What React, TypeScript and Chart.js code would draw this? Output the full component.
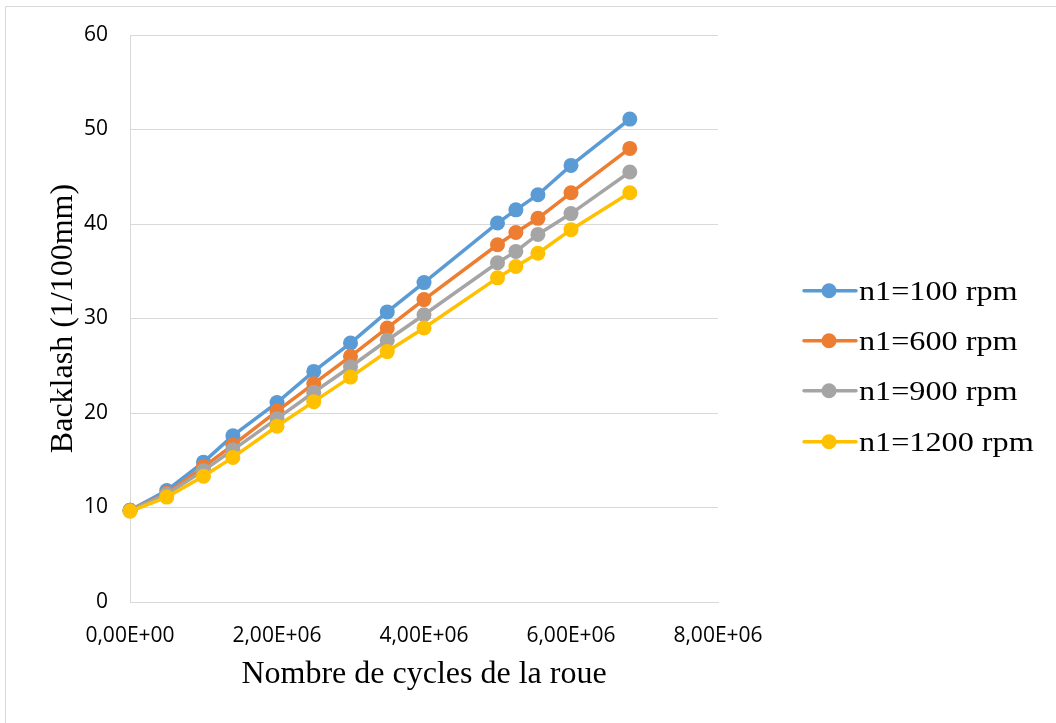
import React, { useEffect, useRef } from "react";
import { Chart, registerables } from "chart.js";

Chart.register(...registerables);

const cycles = [0, 0.5e6, 1e6, 1.4e6, 2e6, 2.5e6, 3e6, 3.5e6, 4e6, 5e6, 5.25e6, 5.55e6, 6e6, 6.8e6];
const rpm100 = [9.7, 11.8, 14.8, 17.6, 21.1, 24.4, 27.4, 30.7, 33.8, 40.1, 41.5, 43.1, 46.2, 51.1];
const rpm600 = [9.7, 11.5, 14.3, 16.6, 20.2, 23.1, 26.0, 29.0, 32.0, 37.8, 39.1, 40.6, 43.3, 48.0];
const rpm900 = [9.7, 11.4, 13.9, 16.1, 19.4, 22.2, 24.9, 27.7, 30.4, 35.9, 37.1, 38.9, 41.1, 45.5];
const rpm1200 = [9.6, 11.1, 13.3, 15.3, 18.6, 21.2, 23.8, 26.5, 29.0, 34.3, 35.5, 36.9, 39.4, 43.3];

const seriesLabels = ["n1=100 rpm", "n1=600 rpm", "n1=900 rpm", "n1=1200 rpm"];
const seriesColors = ["#5B9BD5", "#ED7D31", "#A5A5A5", "#FFC000"];
const seriesValues = [rpm100, rpm600, rpm900, rpm1200];

const xTitle = "Nombre de cycles de la roue";
const yTitle = "Backlash (1/100mm)";

const TICK_FONT = "'Liberation Sans Narrow', 'Open Sans', sans-serif";
const SERIF = "'Liberation Serif', 'DejaVu Serif', serif";

function fmtSci(v: number): string {
  const [m, e] = v.toExponential(2).split("e");
  const ei = parseInt(e, 10);
  return m.replace(".", ",") + "E" + (ei < 0 ? "-" : "+") + String(Math.abs(ei)).padStart(2, "0");
}

const framePlugin = {
  id: "frame",
  beforeDraw(chart: any) {
    const ctx = chart.ctx;
    ctx.save();
    ctx.fillStyle = "#ffffff";
    ctx.fillRect(0, 0, chart.width, chart.height);
    ctx.strokeStyle = "#d9d9d9";
    ctx.lineWidth = 1;
    ctx.beginPath();
    ctx.moveTo(5.5, chart.height);
    ctx.lineTo(5.5, 6.5);
    ctx.lineTo(chart.width, 6.5);
    ctx.stroke();
    ctx.restore();
  },
};

const legendPlugin = {
  id: "customLegend",
  afterDraw(chart: any) {
    const ctx = chart.ctx;
    const rows = [290.7, 340.7, 390.7, 441.7];
    ctx.save();
    chart.data.datasets.forEach((ds: any, i: number) => {
      const y = rows[i];
      ctx.strokeStyle = ds.borderColor;
      ctx.lineWidth = 3.5;
      ctx.lineCap = "round";
      ctx.beginPath();
      ctx.moveTo(804, y);
      ctx.lineTo(856, y);
      ctx.stroke();
      ctx.fillStyle = ds.borderColor;
      ctx.beginPath();
      ctx.arc(829, y, 7.5, 0, Math.PI * 2);
      ctx.fill();
      ctx.fillStyle = "#000000";
      ctx.font = "28px " + SERIF;
      ctx.textBaseline = "alphabetic";
      ctx.textAlign = "left";
      ctx.save();
      ctx.translate(859, y + 9);
      ctx.scale(1.15, 1);
      ctx.fillText(ds.label, 0, 0);
      ctx.restore();
    });
    ctx.restore();
  },
};

export default function App() {
  const ref = useRef<HTMLCanvasElement | null>(null);

  useEffect(() => {
    if (!ref.current) return;
    const datasets = seriesValues.map((vals, i) => ({
      label: seriesLabels[i],
      data: cycles.map((c, j) => ({ x: c, y: vals[j] })),
      borderColor: seriesColors[i],
      backgroundColor: seriesColors[i],
      pointBackgroundColor: seriesColors[i],
      pointBorderWidth: 0,
      pointRadius: 7.5,
      borderWidth: 3.5,
      tension: 0,
      clip: false as any,
      order: seriesValues.length - i,
    }));
    const chart = new Chart(ref.current, {
      type: "line",
      data: { datasets },
      options: {
        responsive: false,
        animation: false,
        devicePixelRatio: 1,
        layout: { padding: { left: 0, top: 35, right: 338, bottom: 0 } },
        plugins: {
          legend: { display: false },
          tooltip: { enabled: false },
        },
        scales: {
          x: {
            type: "linear",
            min: 0,
            max: 8e6,
            afterFit: (s: any) => {
              s.height = 121;
            },
            ticks: {
              stepSize: 2e6,
              padding: 21,
              color: "#000000",
              font: { family: TICK_FONT, size: 21 },
              maxRotation: 0,
              callback: (v: any) => fmtSci(Number(v)),
            },
            grid: { drawOnChartArea: false, drawTicks: false },
            border: { display: true, color: "#d9d9d9", width: 1 },
            title: {
              display: true,
              text: xTitle,
              color: "#000000",
              font: { family: SERIF, size: 32 },
              padding: { top: 0, bottom: 29 },
            },
          },
          y: {
            type: "linear",
            min: 0,
            max: 60,
            afterFit: (s: any) => {
              s.width = 130;
            },
            ticks: {
              stepSize: 10,
              padding: 22,
              color: "#000000",
              font: { family: TICK_FONT, size: 21 },
            },
            grid: { color: "#d9d9d9", lineWidth: 1, drawTicks: false },
            border: { display: true, color: "#d9d9d9", width: 1 },
            title: {
              display: true,
              text: yTitle,
              color: "#000000",
              font: { family: SERIF, size: 32 },
              padding: { top: 44, bottom: 0 },
            },
          },
        },
      },
      plugins: [framePlugin, legendPlugin],
    });
    return () => chart.destroy();
  }, []);

  return (
    <div style={{ position: "fixed", left: 0, top: 0, width: 1056, height: 723, overflow: "hidden", background: "#fff" }}>
      <canvas ref={ref} width={1056} height={723} style={{ display: "block", width: 1056, height: 723 }} />
    </div>
  );
}
